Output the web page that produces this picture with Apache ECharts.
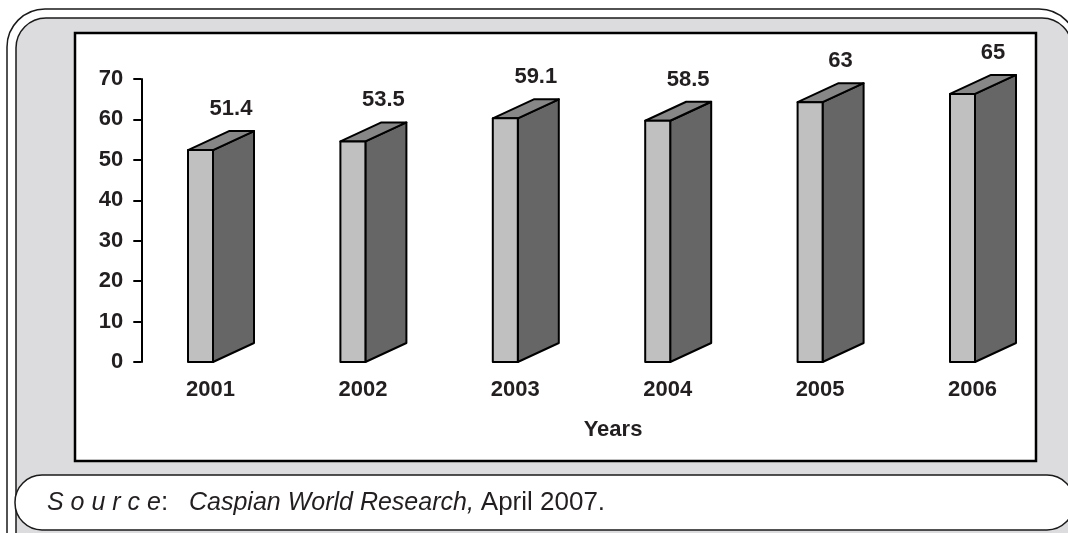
<!DOCTYPE html>
<html>
<head>
<meta charset="utf-8">
<title>Years</title>
<script src="https://cdn.jsdelivr.net/npm/echarts@6/dist/echarts.min.js"></script>
<style>
html, body { margin: 0; padding: 0; background: #ffffff; }
#main { width: 1068px; height: 533px; }
</style>
</head>
<body>
<div id="main"></div>
<script>
// 数据
var years = ['2001', '2002', '2003', '2004', '2005', '2006'];
var values = [51.4, 53.5, 59.1, 58.5, 63, 65];
var yTicks = [0, 10, 20, 30, 40, 50, 60, 70];

var txtColor = '#231f20';
var fontFamily = '"Liberation Sans", Arial, sans-serif';

// 3D柱子参数
var barW = 25;      // 正面宽度
var depthX = 41;    // 侧面偏移
var depthY = -19;
var frontScale = 1.02; // 正面相对后墙的比例

function renderBar(params, api) {
	var v = api.value(1);
	var top = api.coord([api.value(0), v * frontScale]);
	var base = api.coord([api.value(0), 0]);
	var x0 = top[0] - 22.5;
	var x1 = x0 + barW;
	var yt = top[1];
	var yb = base[1];
	var line = { stroke: '#000000', lineWidth: 2, lineJoin: 'round' };
	return {
		type : 'group',
		children : [ {
			type : 'polygon',
			shape : { points : [ [ x1, yb ], [ x1 + depthX, yb + depthY ], [ x1 + depthX, yt + depthY ], [ x1, yt ] ] },
			style : Object.assign({ fill : '#666666' }, line)
		}, {
			type : 'polygon',
			shape : { points : [ [ x0, yt ], [ x0 + depthX, yt + depthY ], [ x1 + depthX, yt + depthY ], [ x1, yt ] ] },
			style : Object.assign({ fill : '#878787' }, line)
		}, {
			type : 'rect',
			shape : { x : x0, y : yt, width : barW, height : yb - yt },
			style : Object.assign({ fill : '#c0c0c0' }, line)
		}, {
			type : 'text',
			style : {
				x : x0 + 43,
				y : yt + depthY - 22,
				text : String(v),
				fill : txtColor,
				font : 'bold 22px ' + fontFamily,
				textAlign : 'center',
				textVerticalAlign : 'middle'
			}
		} ]
	};
}

var barData = [];
for (var i = 0; i < values.length; i++) {
	barData.push([ i, values[i] ]);
}

option = {
	animation : false,
	backgroundColor : '#ffffff',
	textStyle : { fontFamily : fontFamily },
	graphic : [ {
		// 外框
		type : 'rect',
		z : -10,
		shape : { x : 7, y : 9, width : 1070, height : 560, r : 38 },
		style : { fill : '#ffffff', stroke : '#1a1a1a', lineWidth : 1.5 }
	}, {
		type : 'rect',
		z : -9,
		shape : { x : 16, y : 18, width : 1056, height : 550, r : 30 },
		style : { fill : '#dcdcde', stroke : '#1a1a1a', lineWidth : 1.5 }
	}, {
		// 图表白框
		type : 'rect',
		z : -8,
		shape : { x : 75, y : 33, width : 961, height : 428 },
		style : { fill : '#ffffff', stroke : '#000000', lineWidth : 2.5 }
	}, {
		// 来源框
		type : 'rect',
		z : -8,
		shape : { x : 15, y : 475, width : 1059, height : 55, r : 27 },
		style : { fill : '#ffffff', stroke : '#1a1a1a', lineWidth : 1.5 }
	}, {
		type : 'text',
		z : 5,
		left : 47,
		top : 490,
		style : {
			text : '{i|S o u r c e}{n|:}   {i|Caspian World Research,} {n|April 2007.}',
			fill : txtColor,
			rich : {
				i : { fontStyle : 'italic', fontSize : 25, fontFamily : fontFamily, fill : txtColor },
				n : { fontSize : 26, fontFamily : fontFamily, fill : txtColor }
			},
			font : '25px ' + fontFamily
		}
	} ],
	grid : {
		left : 134.3,
		right : 19.3,
		top : 79,
		bottom : 171,
		containLabel : false
	},
	xAxis : {
		type : 'category',
		data : years,
		axisLine : { show : false },
		axisTick : { show : false },
		axisLabel : {
			margin : 17,
			color : txtColor,
			fontSize : 22,
			fontWeight : 'bold'
		},
		name : 'Years',
		nameLocation : 'middle',
		nameGap : 57,
		nameTextStyle : {
			color : txtColor,
			fontSize : 22,
			fontWeight : 'bold',
			padding : [ 0, 0, 0, 43 ]
		}
	},
	yAxis : {
		type : 'value',
		min : yTicks[0],
		max : yTicks[yTicks.length - 1],
		interval : 10,
		offset : -7,
		splitLine : { show : false }, // 去除网格线
		axisLine : { show : true, lineStyle : { color : '#000000', width : 2 } },
		axisTick : { show : true, length : 8, lineStyle : { color : '#000000', width : 2 } },
		axisLabel : {
			margin : 18,
			color : txtColor,
			fontSize : 22,
			fontWeight : 'bold'
		}
	},
	series : [ {
		type : 'custom',
		renderItem : renderBar,
		data : barData,
		encode : { x : 0, y : 1 },
		clip : false
	} ]
};

var myChart = echarts.init(document.getElementById('main'));
myChart.setOption(option, true);
</script>
</body>
</html>
